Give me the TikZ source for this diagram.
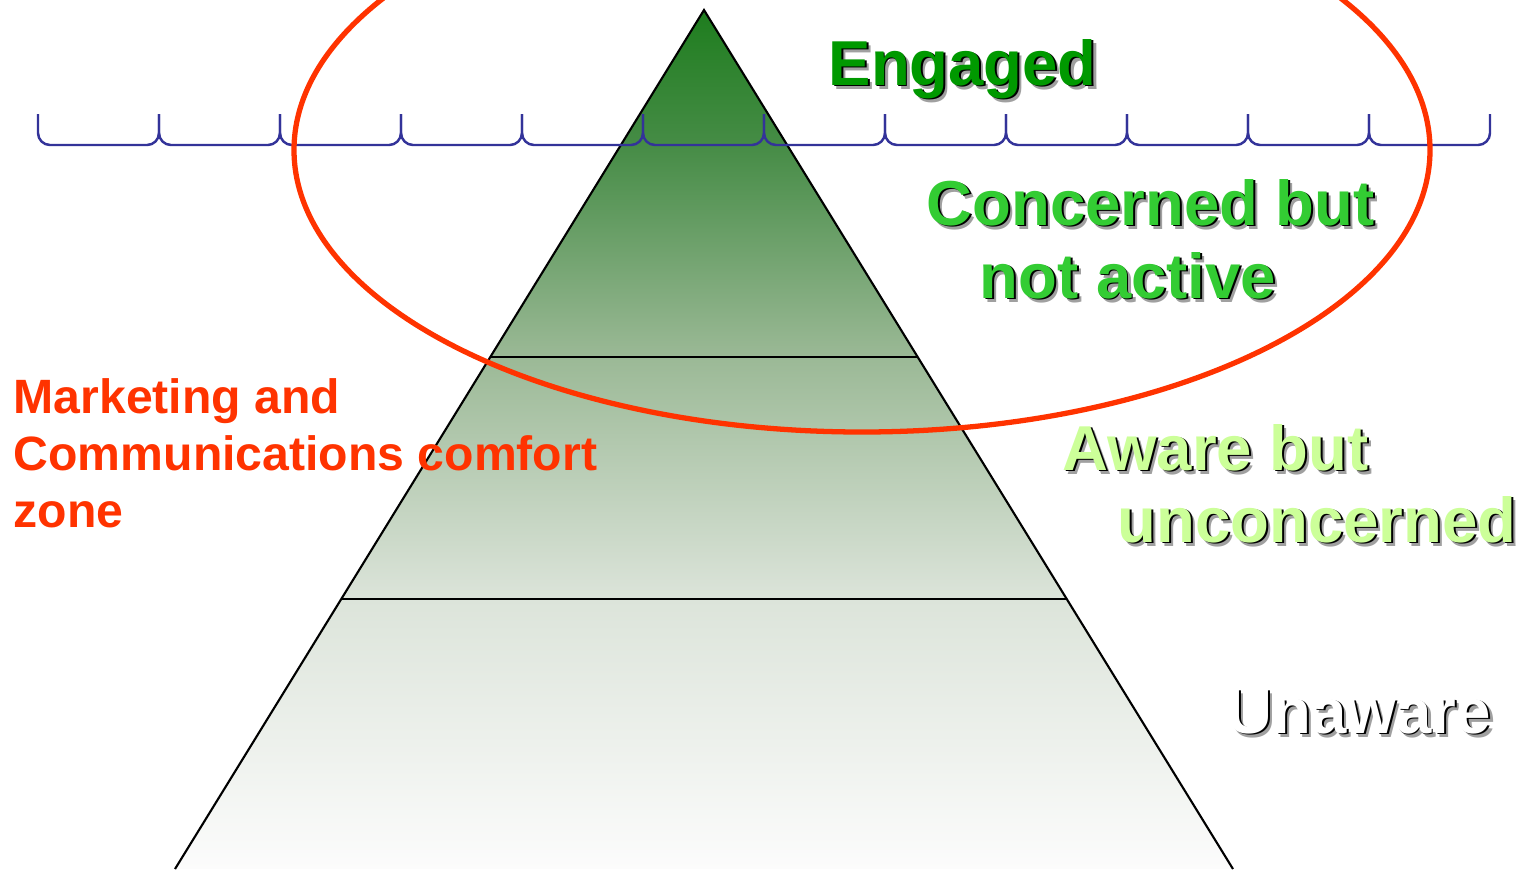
\documentclass[tikz,border=0pt]{standalone}
\usepackage{fontspec}
\setmainfont{Liberation Sans}
\usetikzlibrary{calc}

\definecolor{zonered}{RGB}{255,51,0}
\definecolor{bracketblue}{RGB}{51,51,153}
\definecolor{engagedgreen}{RGB}{0,153,0}
\definecolor{concernedgreen}{RGB}{51,204,51}
\definecolor{awaregreen}{RGB}{204,255,153}
\definecolor{shadowgrey}{RGB}{160,160,160}

% green at the apex fading to white at the base
\definecolor{pyrTop}{RGB}{30,125,30}
\definecolor{pyrA}{RGB}{70,140,70}
\definecolor{pyrB}{RGB}{155,185,150}
\definecolor{pyrC}{RGB}{220,228,218}
\definecolor{pyrD}{RGB}{252,252,252}
\pgfdeclareverticalshading{pyramidshade}{100bp}{%
  color(0bp)=(pyrD); color(25bp)=(pyrD); color(40.7bp)=(pyrC);
  color(54.8bp)=(pyrB); color(67.1bp)=(pyrA); color(75bp)=(pyrTop);
  color(100bp)=(pyrTop)}

% text with a grey drop shadow and a dark edge
\newcommand{\shadowed}[2]{%
  \rlap{\kern1.15pt\raisebox{-1.15pt}{\color{shadowgrey}#2}}%
  \rlap{\kern0.55pt\raisebox{-0.55pt}{\color{black}#2}}%
  \textcolor{#1}{#2}}

\begin{document}
\begin{tikzpicture}[
    x=0.01cm, y=-0.01cm,
    level/.style={draw=black, line width=0.6pt},
    bracket/.style={draw=bracketblue, line width=0.7pt, rounded corners=1.2mm},
    zone/.style={draw=zonered, line width=1.5pt},
    tier/.style={anchor=base west, inner sep=0pt,
      font=\bfseries\fontsize{18.05}{21}\selectfont},
    note/.style={anchor=base west, inner sep=0pt, text=zonered,
      font=\bfseries\fontsize{13.7}{16}\selectfont}
  ]
  \useasboundingbox (0,0) rectangle (1524,869);
  \clip (0,0) rectangle (1524,869);

  \coordinate (apex)  at ( 704, 10);
  \coordinate (baseL) at ( 175,869);
  \coordinate (baseR) at (1233,869);

  % pyramid with its two dividing levels
  \shade[shading=pyramidshade] (apex) -- (baseL) -- (baseR) -- cycle;
  \draw[level] ($(apex)!0.404!(baseL)$) -- ($(apex)!0.404!(baseR)$);
  \draw[level] ($(apex)!0.6857!(baseL)$) -- ($(apex)!0.6857!(baseR)$);
  \draw[level] (baseL) -- (apex) -- (baseR);

  % row of brackets
  \foreach \x in {38,159,...,1369}
    \draw[bracket] (\x,114) |- (\x+121,145) -- (\x+121,114);

  % comfort zone
  \draw[zone] (862,150) ellipse [x radius=568, y radius=282];

  \node[tier] (engaged)     at ( 828, 85) {\shadowed{engagedgreen}{Engaged}};
  \node[tier] (concerned)   at ( 926,225) {\shadowed{concernedgreen}{Concerned but}};
  \node[tier] (notactive)   at ( 979,298) {\shadowed{concernedgreen}{not active}};
  \node[tier] (aware)       at (1062,470) {\shadowed{awaregreen}{Aware but}};
  \node[tier] (unconcerned) at (1117,542) {\shadowed{awaregreen}{unconcerned}};
  \node[tier] (unaware)     at (1226,733) {\shadowed{white}{Unaware}};

  \node[note] (mktA) at (13,413) {Marketing and};
  \node[note] (mktB) at (13,470) {Communications comfort};
  \node[note] (mktC) at (13,527) {zone};
\end{tikzpicture}
\end{document}
